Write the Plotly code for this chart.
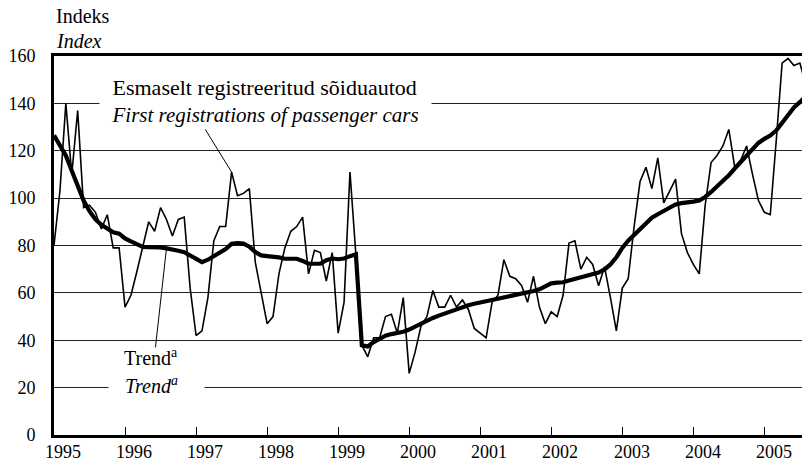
import plotly.graph_objects as go

# Monthly index of first registrations of passenger cars, Jan 1995 - Aug 2005
registrations = [
    80, 103, 140, 110, 137, 96, 97, 94, 87, 93, 79, 79,
    54, 59, 69, 80, 90, 86, 96, 91, 84, 91, 92, 62,
    42, 44, 58, 82, 88, 88, 111, 101, 102, 104, 73, 60,
    47, 50, 68, 79, 86, 88, 92, 68, 78, 77, 65, 77,
    43, 56, 111, 76, 38, 33, 41, 41, 50, 51, 43, 58,
    26, 35, 46, 50, 61, 54, 54, 59, 54, 57, 53, 45,
    43, 41, 56, 59, 74, 67, 66, 63, 56, 67, 54, 47,
    52, 50, 59, 81, 82, 70, 75, 72, 63, 71, 58, 44,
    62, 66, 88, 107, 113, 104, 117, 98, 103, 108, 85, 77,
    72, 68, 97, 115, 118, 122, 129, 113, 116, 122, 110, 99,
    94, 93, 124, 157, 159, 156, 157, 148,
]

# Smoothed trend of the same index
trend = [
    126.5, 122.5, 118.0, 111.6, 105.0, 99.0, 94.5, 91.0, 88.7, 87.0, 85.6, 85.0,
    83.0, 81.7, 80.5, 79.4, 79.3, 79.3, 79.2, 78.8, 78.5, 77.8, 77.2, 75.8,
    74.3, 73.0, 74.0, 75.5, 76.8, 78.5, 80.7, 81.0, 80.8, 79.5, 77.2, 75.8,
    75.5, 75.4, 75.0, 74.4, 74.4, 74.4, 73.5, 72.3, 72.3, 72.3, 73.8, 74.5,
    74.2, 74.5, 75.5, 76.3, 37.9, 37.4, 39.2, 40.8, 41.9, 42.6, 43.0, 43.6,
    44.5, 45.8, 46.9, 48.2, 49.4, 50.4, 51.3, 52.3, 53.2, 54.0, 54.8, 55.4,
    55.9, 56.4, 57.0, 57.5, 58.1, 58.6, 59.2, 59.7, 60.3, 60.8, 61.5, 62.6,
    64.0, 64.3, 64.5, 65.2, 65.9, 66.5, 67.0, 67.6, 68.6, 69.9, 72.0, 75.0,
    79.0, 82.0, 84.5, 87.0, 89.5, 91.7, 93.2, 94.6, 96.0, 97.3, 97.9, 98.1,
    98.5, 99.0, 100.5, 102.6, 104.8, 107.1, 109.6, 112.5, 115.3, 118.2, 121.0, 123.3,
    125.0, 126.4, 128.5, 131.7, 135.1, 138.3, 140.5, 143.0,
]

years = list(range(1995, 2006))
year_labels = [str(y) for y in years]
y_ticks = list(range(0, 161, 20))

start_year = 1995
months = [start_year + i / 12 for i in range(len(registrations))]

W, H = 802, 468
M_L, M_R, M_T, M_B = 54, 0, 56, 33
X_END = 2005.53

SERIF = "Liberation Serif, Times New Roman, serif"
TXT = 20

fig = go.Figure()
fig.add_trace(go.Scatter(
    x=months, y=registrations, mode="lines",
    line=dict(color="black", width=1.6), hoverinfo="skip", showlegend=False,
))
fig.add_trace(go.Scatter(
    x=months, y=trend, mode="lines",
    line=dict(color="black", width=4.2), hoverinfo="skip", showlegend=False,
))

annotations = []
# year labels sit a little to the right of each January tick
for yr, lab in zip(years, year_labels):
    annotations.append(dict(
        x=yr + 0.13, y=0, xref="x", yref="y", yshift=-17,
        text=lab, showarrow=False, xanchor="center", yanchor="middle",
        font=dict(family=SERIF, size=18, color="black"),
    ))

NB = "\u00a0"
annotations += [
    dict(x=0, y=1, xref="paper", yref="paper", xanchor="left", yanchor="bottom",
         yshift=27, xshift=0, text="Indeks", showarrow=False,
         font=dict(family=SERIF, size=TXT, color="black")),
    dict(x=0, y=1, xref="paper", yref="paper", xanchor="left", yanchor="bottom",
         yshift=2, xshift=0, text="<i>Index</i>", showarrow=False,
         font=dict(family=SERIF, size=TXT, color="black")),
    # series label with a white box breaking the gridline behind it
    dict(x=1995.64, y=141, xref="x", yref="y", xanchor="left", yanchor="middle",
         text=NB * 2 + "<span style='font-size:22px'>Esmaselt registreeritud sõiduautod</span>"
              + NB * 2 + "<br>" + NB * 2
              + "<i>First registrations of passenger cars</i>" + NB * 2,
         align="left", showarrow=False, bgcolor="white", borderpad=2,
         font=dict(family=SERIF, size=21, color="black")),
    # trend label
    dict(x=1996.44, y=21.3, xref="x", yref="y", xanchor="center", yanchor="middle",
         text=NB * 3 + "<i>Trend<sup>a</sup></i>" + NB * 5, showarrow=False,
         bgcolor="white", borderpad=1,
         font=dict(family=SERIF, size=TXT, color="black")),
    dict(x=1996.37, y=33.0, xref="x", yref="y", xanchor="center", yanchor="middle",
         text="Trend<sup>a</sup>", showarrow=False,
         font=dict(family=SERIF, size=TXT, color="black")),
]

# thin leader lines from the labels to the curves, anchored on data points
shapes = [
    dict(type="line", xref="x", yref="y", xsizemode="pixel", ysizemode="pixel",
         xanchor=months[30], yanchor=registrations[30],
         x0=0, y0=0, x1=-29, y1=47, line=dict(color="black", width=1)),
    dict(type="line", xref="x", yref="y", xsizemode="pixel", ysizemode="pixel",
         xanchor=months[19], yanchor=trend[19],
         x0=0, y0=0, x1=-11, y1=-99, line=dict(color="black", width=1)),
]

fig.update_layout(
    width=W, height=H,
    margin=dict(l=M_L, r=M_R, t=M_T, b=M_B, pad=0),
    paper_bgcolor="white", plot_bgcolor="white",
    font=dict(family=SERIF, size=18, color="black"),
    showlegend=False,
    annotations=annotations,
    shapes=shapes,
    xaxis=dict(
        range=[start_year, X_END], tickmode="array", tickvals=years,
        showticklabels=False, ticks="inside", ticklen=8, tickwidth=1,
        tickcolor="black", showgrid=False, zeroline=False,
        showline=True, linecolor="black", linewidth=3, mirror=True,
        fixedrange=True,
    ),
    yaxis=dict(
        range=[0, 160], tickmode="array", tickvals=y_ticks,
        ticktext=[str(v) for v in y_ticks], ticks="", ticklabelstandoff=12,
        showgrid=True, gridcolor="#222", gridwidth=1, zeroline=False,
        showline=True, linecolor="black", linewidth=3,
        tickfont=dict(family=SERIF, size=18, color="black"),
        fixedrange=True,
    ),
)

fig.write_html("out.html", config={"displayModeBar": False})
